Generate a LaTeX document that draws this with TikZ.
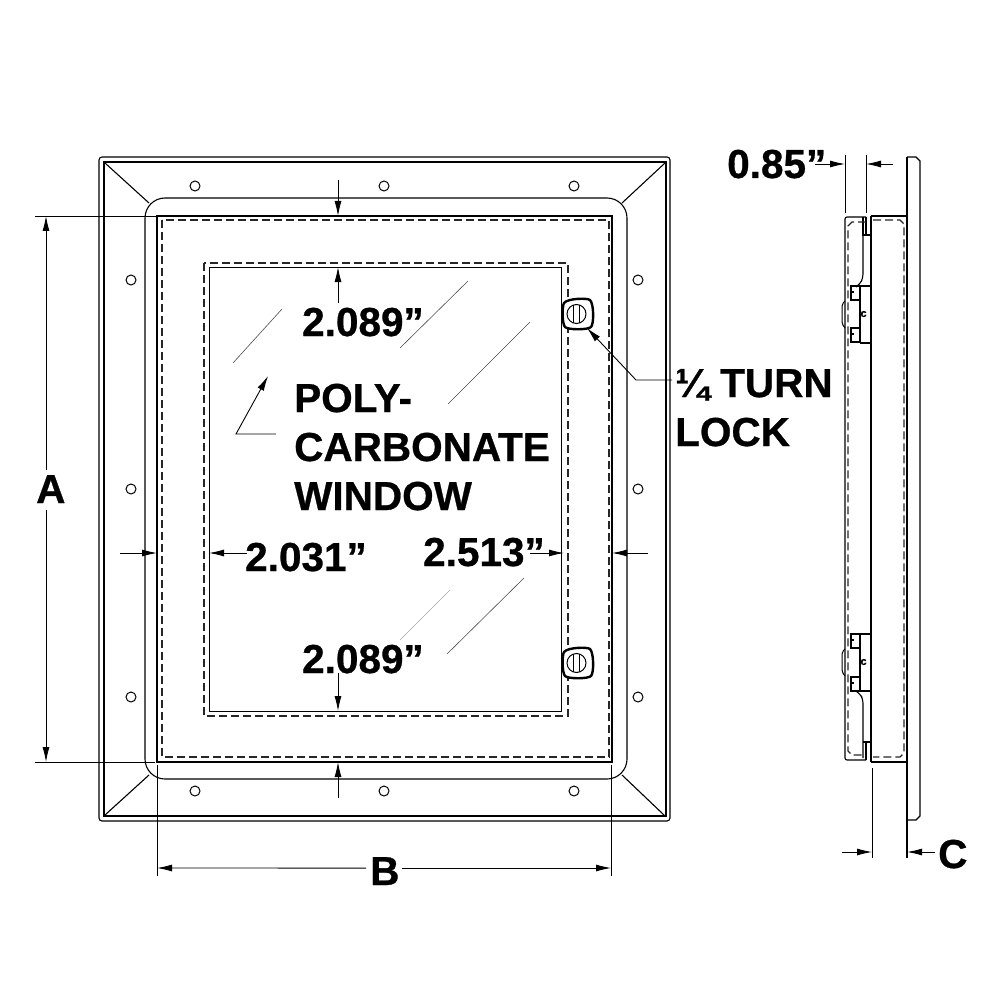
\documentclass[tikz,border=0pt]{standalone}
\usepackage{fontspec}
\setmainfont{Liberation Sans}[BoldFeatures={FakeBold=0.7}]
\usetikzlibrary{arrows.meta}
\tikzset{>={Latex[width=7pt,length=15pt]}}
\tikzset{dimline/.style={line width=0.9pt}}
\tikzset{outline/.style={line width=1.1pt}}
\tikzset{dashline/.style={line width=1.25pt,black!85,dash pattern=on 8pt off 4pt}}
\tikzset{glare/.style={line width=0.6pt,black!70}}
\tikzset{bigtext/.style={font=\fontsize{40.5}{44}\selectfont\bfseries,inner sep=0pt,anchor=base west}}

\begin{document}
\begin{tikzpicture}[x=1pt,y=-1pt]

  \newcommand\lockmark[2]{
    \draw[line width=2.4pt,fill=white] (#1-14,#2-11)
      .. controls (#1-10,#2-16) and (#1+10,#2-16) .. (#1+12,#2-14)
      .. controls (#1+16,#2-10) and (#1+16,#2+10) .. (#1+13,#2+13)
      .. controls (#1+10,#2+16) and (#1-10,#2+16) .. (#1-13,#2+13)
      .. controls (#1-16,#2+10) and (#1-16,#2-8) .. cycle;
    \draw[line width=1pt] (#1-1.5,#2) circle (9.5);
    \draw[line width=1pt] (#1-4.5,#2-9) -- (#1-4.5,#2+9);
    \draw[line width=1pt] (#1+1.5,#2-9) -- (#1+1.5,#2+9);
  }
  \newcommand\clipmark[2]{
    \draw[line width=1.5pt] (#1,#2) rectangle (#1+9,#2+14);
    \draw[line width=1.5pt] (#1,#2+6) -- (#1+3,#2+6);
  }

  \useasboundingbox (0,0) rectangle (1000,1000);

  %% front view
  \draw[outline,rounded corners=3pt] (99,157) rectangle (670,821);
  \draw[outline] (104,162) rectangle (666,816);
  \draw[outline,rounded corners=20pt] (145,198) rectangle (627,779);
  \draw[line width=1.8pt] (157,216) rectangle (612,762);
  \draw[dashline] (162,220) rectangle (609,757);
  \draw[dashline] (204,263) rectangle (568,716);
  \draw[line width=0.9pt] (209,267) rectangle (561,711);

  \draw[outline] (105,163) -- (149,203); %% corners
  \draw[outline] (665,163) -- (622,203);
  \draw[outline] (105,815) -- (149,775);
  \draw[outline] (664,815) -- (622,775);

  \foreach \x in {195,384,574} {
    \draw[line width=1pt] (\x,186) circle (5);
    \draw[line width=1pt] (\x,791) circle (5);
  }
  \foreach \y in {280,489,697} {
    \draw[line width=1pt] (131,\y) circle (5);
    \draw[line width=1pt] (638,\y) circle (5);
  }

  \draw[glare] (233,363) -- (282,309);
  \draw[glare] (400,348) -- (468,281);
  \draw[glare] (448,404) -- (530,322);
  \draw[glare,black!35] (400,640) -- (450,590);
  \draw[glare] (447,654) -- (524,578);

  \lockmark{578}{314}
  \lockmark{578}{663}

  %% A and B
  \draw[dimline] (35,216) -- (157,216);
  \draw[dimline] (35,762) -- (155,762);
  \draw[dimline] (157,765) -- (157,876);
  \draw[dimline] (611,765) -- (611,876);
  \node[bigtext] (dimA) at (36,503) {A};
  \node[bigtext] (dimB) at (370,885) {B};
  \draw[dimline,->] (46,470) -- (46,216);
  \draw[dimline,->] (46,510) -- (46,762);
  \draw[dimline,->] (dimB.west) ++(-4,-3) -- (157,868);
  \draw[dimline,->] (402,868) -- (611,868);

  %% door and window margins
  \draw[dimline,->] (338,180) -- (338,216);
  \draw[dimline,->] (338,303) -- (338,267);
  \draw[dimline,->] (338,673) -- (338,711);
  \draw[dimline,->] (338,798) -- (338,762);
  \draw[dimline,->] (120,553) -- (157,553);
  \draw[dimline,->] (247,553) -- (209,553);
  \draw[dimline,->] (530,553) -- (564,553);
  \draw[dimline,->] (648,553) -- (612,553);

  \node[bigtext] (topgap) at (302,336) {2.089”};
  \node[bigtext] (botgap) at (302,673) {2.089”};
  \node[bigtext] (leftgap) at (245,571) {2.031”};
  \node[bigtext] (rightgap) at (423,566) {2.513”};

  %% window label
  \node[bigtext] (poly) at (294,412) {POLY-};
  \node[bigtext] (carb) at (294,461) {CARBONATE};
  \node[bigtext] (wind) at (294,510) {WINDOW};
  \draw[dimline,->] (276,434) -- (236,434) -- (268,376);

  %% lock label
  \node[bigtext] (turn) at (675,397) {¼ TURN};
  \node[bigtext] (lock) at (675,446) {LOCK};
  \draw[dimline,->] (672,380) -- (636,380) -- (587,328);

  %% side view, flange and body
  \draw[outline] (907,157) -- (916,157) -- (920,161) -- (920,816) -- (916,820) -- (907,820);
  \draw[line width=1.8pt] (907,157) -- (907,858);
  \draw[outline] (871,216) -- (907,216);
  \draw[outline] (871,762) -- (907,762);
  \draw[outline] (871,216) -- (871,762);
  \draw[dimline] (872,768) -- (872,858);
  \draw[dashline] (873,220) -- (900,220) -- (904,224) -- (904,753) -- (900,757) -- (873,757);

  %% side view, door
  \draw[outline,rounded corners=2pt] (866,217) -- (845,217) -- (845,760) -- (866,760);
  \draw[outline] (866,217) -- (866,235);
  \draw[outline] (866,742) -- (866,760);
  \draw[outline] (863,217) -- (863,235) -- (871,235);
  \draw[outline] (863,742) -- (871,742);
  \draw[outline,rounded corners=4pt] (863,235) -- (863,278) -- (860,284) -- (856,287);
  \draw[outline,rounded corners=4pt] (856,691) -- (860,694) -- (863,699) -- (863,758);
  \draw[dashline] (866,222) -- (852,222) -- (848,226) -- (848,751) -- (852,755) -- (866,755);

  %% side view, locks
  \foreach \y in {286,634} {
    \draw[outline] (860,\y) -- (871,\y);
    \draw[outline] (860,\y+57) -- (871,\y+57);
    \draw[outline] (860,\y) -- (860,\y+57);
    \draw[line width=1pt,rounded corners=2pt] (845,\y+15) -- (842,\y+18) -- (842,\y+38) -- (845,\y+42);
    \node[font=\fontsize{11}{11}\selectfont\bfseries,inner sep=0pt] at (863.5,\y+28) {c};
  }
  \clipmark{851}{286}
  \clipmark{851}{328}
  \clipmark{851}{634}
  \clipmark{851}{677}

  %% side view, dimensions
  \draw[dimline] (845,155) -- (845,213);
  \draw[dimline] (866,155) -- (866,213);
  \draw[dimline,->] (815,164) -- (845,164);
  \draw[dimline,->] (893,164) -- (866,164);
  \draw[dimline,->] (842,852) -- (872,852);
  \draw[dimline,->] (935,852) -- (907,852);
  \node[bigtext] (gap) at (727,178) {0.85”};
  \node[bigtext] (dimC) at (938,868) {C};

\end{tikzpicture}
\end{document}
